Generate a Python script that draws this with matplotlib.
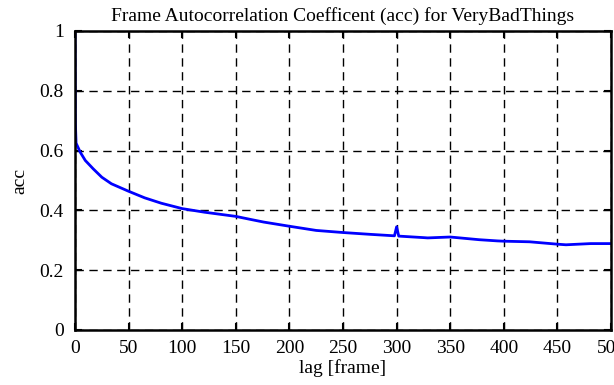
import numpy as np
import matplotlib
matplotlib.use("Agg")
import matplotlib.pyplot as plt

plt.rcParams['font.family'] = ['Liberation Serif', 'DejaVu Serif']

# lag values and autocorrelation
lag = [0, 0.3, 1, 5, 9.6, 17, 25, 34, 50, 65, 80.5, 100, 120.7, 150, 163.5,
       176, 200, 225, 250, 275, 298, 300, 302, 325, 329, 350, 377, 394, 400, 424,
       450, 458, 481, 500]
acc = [1.0, 0.70, 0.625, 0.594, 0.567, 0.539, 0.511, 0.489, 0.464, 0.442, 0.424,
       0.406, 0.394, 0.380, 0.370, 0.361, 0.347, 0.333, 0.326, 0.320,
       0.315, 0.345, 0.314, 0.309, 0.308, 0.311, 0.302, 0.298, 0.297, 0.295,
       0.287, 0.285, 0.289, 0.289]

xticks = [0, 50, 100, 150, 200, 250, 300, 350, 400, 450, 500]
yticks = [0, 0.2, 0.4, 0.6, 0.8, 1]
ylabels = ['0', '0.2', '0.4', '0.6', '0.8', '1']

fig = plt.figure(figsize=(6.14, 3.85), dpi=100)
ax = fig.add_axes([75/614, 1-330/385, 536/614, 299/385])

ax.plot(lag, acc, color='#0000ff', lw=2)

ax.set_xlim(0, 500)
ax.set_ylim(0, 1)
ax.set_xticks(xticks)
ax.set_xticklabels([str(t) for t in xticks])
ax.set_yticks(yticks)
ax.set_yticklabels(ylabels)
ax.tick_params(direction='in', length=5, width=1.5, top=True, right=True,
               labelsize=14)
ax.tick_params(axis='x', pad=7)
ax.tick_params(axis='y', pad=8)
for s in ax.spines.values():
    s.set_linewidth(1.8)

ax.grid(True, color='black', linestyle=(0, (6, 4)), linewidth=1)

ax.set_title('Frame Autocorrelation Coefficent (acc) for VeryBadThings',
             fontsize=14, pad=7)
ax.set_xlabel('lag [frame]', fontsize=14, labelpad=2)
ax.set_ylabel('acc', fontsize=14, labelpad=8)

fig.savefig('out.png', dpi=100)
